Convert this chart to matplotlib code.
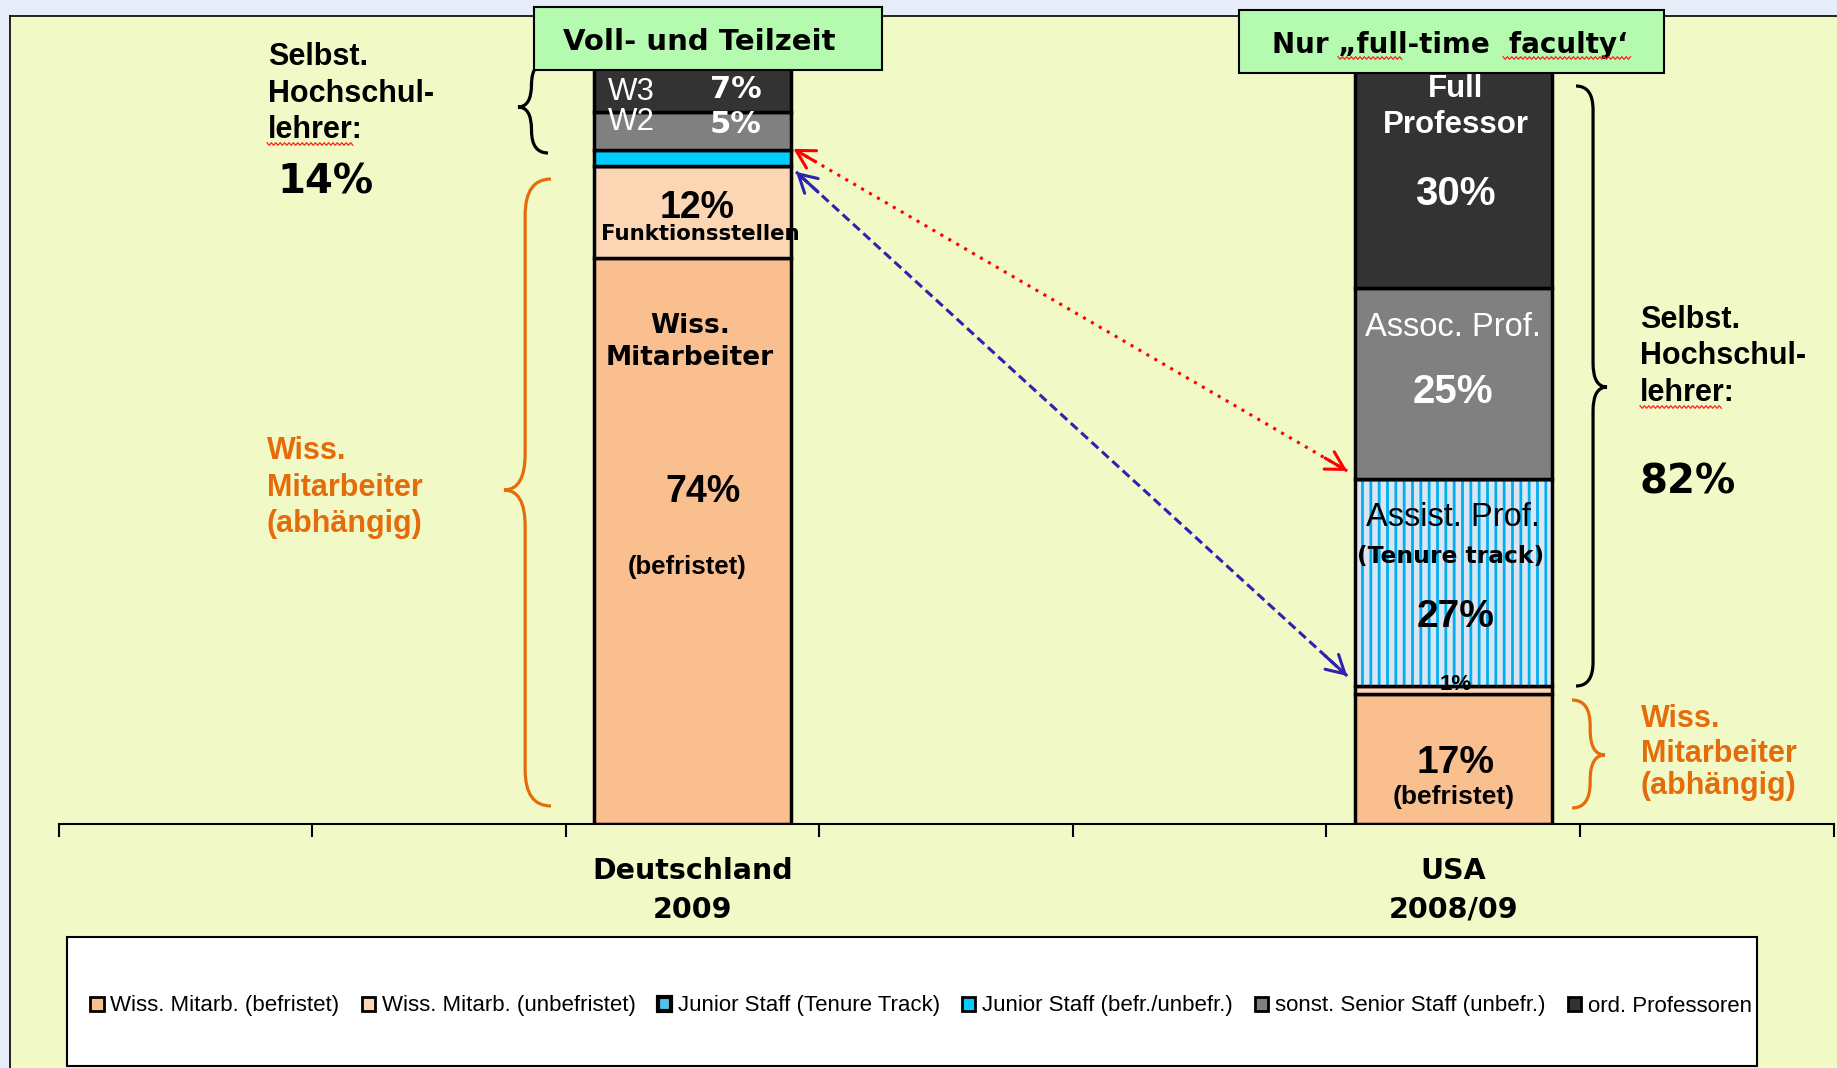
import numpy as np
import matplotlib.pyplot as plt
from matplotlib.patches import Rectangle, Patch, PathPatch
from matplotlib.path import Path

# data (percent of staff, stacked bottom -> top)
countries = ['Deutschland\n2009', 'USA\n2008/09']
series_names = ['Wiss. Mitarb. (befristet)', 'Wiss. Mitarb. (unbefristet)',
                'Junior Staff (Tenure Track)', 'Junior Staff (befr./unbefr.)',
                'sonst. Senior Staff (unbefr.)', 'ord. Professoren']
befristet = [74, 17]
unbefristet = [12, 1]
tenure_track = [0, 27]
junior_staff = [2, 0]
senior_staff = [5, 25]
professoren = [7, 30]
series = [befristet, unbefristet, tenure_track, junior_staff, senior_staff, professoren]

fills = ['#f9bf8f', '#fcd5b5', '#dce6f2', '#00ccff', '#808080', '#333333']
n_slots = 7
slots = [2, 5]
bar_w = 0.776

HEAVY = 'DejaVu Sans'
ARIAL = 'Liberation Sans'
ORANGE = '#e46c0a'

plt.rcParams['hatch.linewidth'] = 2.0

W, H = 1837, 1068
fig = plt.figure(figsize=(W / 100, H / 100), dpi=100, facecolor='#e6edf9')

# background panel + legend box (pixel coords)
bg = fig.add_axes([0, 0, 1, 1], zorder=-1)
bg.set_xlim(0, W)
bg.set_ylim(H, 0)
bg.axis('off')
bg.add_patch(Rectangle((10, 16), W - 10, H - 16, facecolor='#f1f9c6', edgecolor='none'))
bg.plot([10, 10], [16, H], color='black', lw=1.2)
bg.plot([10, W], [16, 16], color='black', lw=1.2)
bg.add_patch(Rectangle((67, 937), 1690, 129, facecolor='white', edgecolor='black', lw=1.5))

# main chart
ax = fig.add_axes([58.6 / W, 1 - 823.6 / H, 1775 / W, 765 / H], zorder=1)
ax.patch.set_visible(False)
ax.set_xlim(-0.5, n_slots - 0.5)
ax.set_ylim(0, 100)
for s in ['top', 'right', 'left']:
    ax.spines[s].set_visible(False)
ax.spines['bottom'].set_linewidth(1.5)
ax.set_yticks([])
ax.set_xticks(np.arange(-0.5, n_slots, 1))
ax.set_xticklabels([])
ax.tick_params(axis='x', which='major', direction='out', length=9, width=1.5)
ax.set_xticks(slots, minor=True)
ax.set_xticklabels(countries, minor=True, fontsize=20.5, fontweight='bold',
                   family=HEAVY, linespacing=1.5)
ax.tick_params(axis='x', which='minor', length=0, pad=24)

bottom = np.zeros(len(slots))
for i, vals in enumerate(series):
    vals = np.array(vals, dtype=float)
    if i == 2:
        ax.bar(slots, vals, bar_w, bottom=bottom, color=fills[i], edgecolor='#00b0f0',
               hatch='||', linewidth=0)
        ax.bar(slots, vals, bar_w, bottom=bottom, fill=False, edgecolor='black', linewidth=2.5)
    else:
        ax.bar(slots, vals, bar_w, bottom=bottom, color=fills[i], edgecolor='black', linewidth=2.5)
    bottom += vals

cum = np.cumsum(np.array(series, dtype=float), axis=0)

# labels inside bars (x offset from slot, baseline y)
de, us = slots
labels = [
    (de - 0.24, 94.6, 'W3', 'white', 22.5, 'normal', ARIAL),
    (de + 0.17, 94.8, '7%', 'white', 22, 'bold', HEAVY),
    (de - 0.24, 90.7, 'W2', 'white', 22.5, 'normal', ARIAL),
    (de + 0.17, 90.3, '5%', 'white', 22, 'bold', HEAVY),
    (de + 0.02, 79.1, '12%', 'black', 27, 'bold', ARIAL),
    (de + 0.03, 76.3, 'Funktionsstellen', 'black', 15.3, 'bold', HEAVY),
    (de - 0.01, 64.1, 'Wiss.', 'black', 19, 'bold', HEAVY),
    (de - 0.01, 59.9, 'Mitarbeiter', 'black', 19, 'bold', HEAVY),
    (de + 0.04, 42.1, '74%', 'black', 27, 'bold', ARIAL),
    (de - 0.02, 32.6, '(befristet)', 'black', 18.5, 'bold', ARIAL),
    (us + 0.01, 95.0, 'Full', 'white', 22.5, 'bold', ARIAL),
    (us + 0.01, 90.3, 'Professor', 'white', 22.5, 'bold', ARIAL),
    (us + 0.01, 80.9, '30%', 'white', 29, 'bold', ARIAL),
    (us, 63.7, 'Assoc. Prof.', 'white', 23.5, 'normal', ARIAL),
    (us, 55.0, '25%', 'white', 29, 'bold', ARIAL),
    (us, 38.9, 'Assist. Prof.', 'black', 23.5, 'normal', ARIAL),
    (us - 0.01, 34.1, '(Tenure track)', 'black', 16.8, 'bold', HEAVY),
    (us + 0.01, 25.7, '27%', 'black', 28, 'bold', ARIAL),
    (us + 0.01, 17.4, '1%', 'black', 16, 'bold', ARIAL),
    (us + 0.01, 6.6, '17%', 'black', 28, 'bold', ARIAL),
    (us, 2.6, '(befristet)', 'black', 19, 'bold', ARIAL),
]
for x, y, t, c, fs, fw, fam in labels:
    ax.text(x, y, t, color=c, fontsize=fs, fontweight=fw, family=fam,
            ha='center', va='baseline')


# arrows between junior staff (DE) and tenure track (US)
def two_head_arrow(a, b, color, ls):
    a = np.array(a)
    b = np.array(b)
    ax.plot([a[0], b[0]], [a[1], b[1]], color=color, lw=2.2, linestyle=ls)
    for p, q in [(a, b), (b, a)]:
        ax.annotate('', xy=q, xytext=q + 0.04 * (p - q),
                    arrowprops=dict(arrowstyle='->,head_length=0.8,head_width=0.45',
                                    color=color, lw=2.2, mutation_scale=16,
                                    shrinkA=0, shrinkB=0))


de_right = de + bar_w / 2
us_left = us - bar_w / 2
two_head_arrow((us_left - 0.03, cum[2, 1] + 1.1), (de_right + 0.01, cum[3, 0] + 0.2),
               '#ff0000', (0, (1, 2)))
two_head_arrow((us_left - 0.03, cum[1, 1] + 1.3), (de_right + 0.02, cum[2, 0] - 0.8),
               '#2e22b0', (0, (3, 1.6)))

# overlay for annotations (pixel coords)
ov = fig.add_axes([0, 0, 1, 1], zorder=2)
ov.set_xlim(0, W)
ov.set_ylim(H, 0)
ov.axis('off')


def brace(x_tip, x_back, y0, y1, ym, color):
    xm = x_tip + (x_back - x_tip) * 0.45
    r = min(abs(x_back - xm) * 1.4, (y1 - y0) / 4)
    verts = [(x_back, y0), (xm, y0), (xm, y0 + r),
             (xm, ym - r), (xm, ym), (x_tip, ym),
             (xm, ym), (xm, ym + r),
             (xm, y1 - r), (xm, y1), (x_back, y1)]
    codes = [Path.MOVETO, Path.CURVE3, Path.CURVE3,
             Path.LINETO, Path.CURVE3, Path.CURVE3,
             Path.CURVE3, Path.CURVE3,
             Path.LINETO, Path.CURVE3, Path.CURVE3]
    ov.add_patch(PathPatch(Path(verts, codes), facecolor='none', edgecolor=color, lw=2.3))


def squiggle(x0, x1, y):
    xs = np.arange(x0, x1 + 1, 2.2)
    ys = y + np.where(np.arange(len(xs)) % 2 == 0, -1.3, 1.3)
    ov.plot(xs, ys, color='#ff2020', lw=0.9, zorder=6)


brace(518, 548, 62, 153, 107, 'black')
brace(504, 551, 179, 806, 490, ORANGE)
brace(1607, 1576, 86, 686, 387, 'black')
brace(1605, 1572, 700, 808, 755, ORANGE)

side_text = [
    (268, [65, 102, 138], ['Selbst.', 'Hochschul-', 'lehrer:'], 'black'),
    (267, [459, 496, 532], ['Wiss.', 'Mitarbeiter', '(abhängig)'], ORANGE),
    (1640, [328, 364, 401], ['Selbst.', 'Hochschul-', 'lehrer:'], 'black'),
    (1641, [727, 762, 794], ['Wiss.', 'Mitarbeiter', '(abhängig)'], ORANGE),
]
for x, ys, lines, c in side_text:
    for y, t in zip(ys, lines):
        ov.text(x, y, t, color=c, fontsize=22, fontweight='bold', family=ARIAL, va='baseline')

squiggle(267, 352, 144)
squiggle(1640, 1722, 407)

ov.text(277, 193, '14%', fontsize=29, fontweight='bold', family=HEAVY, va='baseline')
ov.text(1640, 493, '82%', fontsize=29, fontweight='bold', family=HEAVY, va='baseline')

# green header boxes
ov.add_patch(Rectangle((534, 7), 348, 63, facecolor='#b4fbb0', edgecolor='black', lw=1.5))
ov.text(699, 50, 'Voll- und Teilzeit', fontsize=21, fontweight='bold', family=HEAVY,
        ha='center', va='baseline')
ov.add_patch(Rectangle((1239, 10), 425, 63, facecolor='#b4fbb0', edgecolor='black', lw=1.5))
ov.text(1450, 53, 'Nur \u201efull-time  faculty\u2018', fontsize=20, fontweight='bold',
        family=HEAVY, ha='center', va='baseline')
squiggle(1338, 1403, 58)
squiggle(1503, 1631, 58)

# legend
handles = [Patch(facecolor=c, edgecolor='black', linewidth=2) for c in fills]
handles[2] = Patch(facecolor='#4fc3f0', edgecolor='black', linewidth=3)
fig.legend(handles, series_names, loc='center', bbox_to_anchor=(921 / W, 1 - 1006 / H),
           ncol=6, frameon=False, prop={'family': ARIAL, 'size': 16},
           handlelength=0.6, handleheight=0.6, handletextpad=0.3, columnspacing=1.0)

fig.savefig('out.png', dpi=100, facecolor=fig.get_facecolor())
